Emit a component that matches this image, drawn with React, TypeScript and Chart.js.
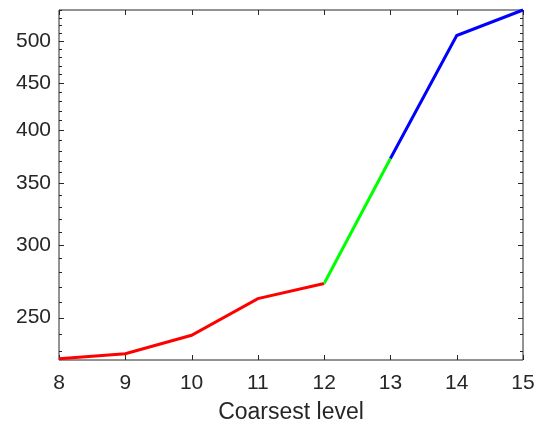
import React, { useEffect, useRef } from 'react';
import { Chart, registerables } from 'chart.js';

Chart.register(...registerables);

// Cost per coarsest level (log scale)
const levels = [8, 9, 10, 11, 12, 13, 14, 15];
const values = [225.5, 228.4, 239.2, 262.2, 272.3, 372.6, 507.1, 540.6];
// colour of the segment that starts at each level
const segmentColors = ['#ff0000', '#ff0000', '#ff0000', '#ff0000', '#00ff00', '#0000ff', '#0000ff'];

const yMin = 224.8;
const yMax = 540.6;
const yTickValues = [230, 240, 250, 260, 270, 280, 290, 300, 310, 320, 330, 340, 350, 360, 370, 380, 390, 400, 410, 420, 430, 440, 450, 460, 470, 480, 490, 500, 510, 520, 530, 540];
const yLabelled = [250, 300, 350, 400, 450, 500];
const xLabel = 'Coarsest level';

const AXIS_COLOR = '#262626';

// Draws the surrounding box with inward tick marks on all four sides
const boxTicks = {
  id: 'boxTicks',
  beforeDatasetsDraw(chart: any) {
    const { ctx, chartArea } = chart;
    const { left, right, top, bottom } = chartArea;
    const xs = chart.scales.x;
    const ys = chart.scales.y;
    ctx.save();
    ctx.strokeStyle = AXIS_COLOR;
    ctx.lineWidth = 1;
    ctx.beginPath();
    ctx.rect(Math.round(left), Math.round(top), Math.round(right) - Math.round(left), Math.round(bottom) - Math.round(top));
    ctx.stroke();

    ctx.beginPath();
    const major = 5;
    const minor = 3;
    for (const v of levels) {
      const px = Math.round(xs.getPixelForValue(v)) + 0.5;
      ctx.moveTo(px, bottom);
      ctx.lineTo(px, bottom - major);
      ctx.moveTo(px, top);
      ctx.lineTo(px, top + major);
    }
    for (const v of yTickValues) {
      const py = Math.round(ys.getPixelForValue(v)) + 0.5;
      const len = yLabelled.includes(v) ? major : minor;
      ctx.moveTo(left, py);
      ctx.lineTo(left + len, py);
      ctx.moveTo(right, py);
      ctx.lineTo(right - len, py);
    }
    ctx.stroke();
    ctx.restore();
  },
};

export default function App() {
  const canvasRef = useRef<HTMLCanvasElement | null>(null);

  useEffect(() => {
    const canvas = canvasRef.current;
    if (!canvas) return;
    Chart.defaults.font.family = '"Liberation Sans", Arial, Helvetica, sans-serif';
    Chart.defaults.color = AXIS_COLOR;

    const chart = new Chart(canvas, {
      type: 'line',
      data: {
        datasets: [
          {
            data: levels.map((l, i) => ({ x: l, y: values[i] })),
            borderWidth: 3,
            borderColor: '#ff0000',
            pointRadius: 0,
            pointHoverRadius: 0,
            tension: 0,
            clip: 4,
            segment: {
              borderColor: (c: any) => segmentColors[c.p0DataIndex],
            },
          },
        ],
      },
      options: {
        animation: false,
        responsive: false,
        maintainAspectRatio: false,
        events: [],
        layout: { padding: { top: 10, right: 22, left: 0, bottom: 0 } },
        plugins: {
          legend: { display: false },
          tooltip: { enabled: false },
        },
        scales: {
          x: {
            type: 'linear',
            min: 8,
            max: 15,
            grid: { display: false, drawTicks: false },
            border: { display: false },
            afterBuildTicks: (scale: any) => {
              scale.ticks = levels.map((v) => ({ value: v }));
            },
            afterFit: (scale: any) => {
              scale.height = 68;
              scale.paddingLeft = 0;
              scale.paddingRight = 0;
            },
            ticks: {
              autoSkip: false,
              maxRotation: 0,
              padding: 11,
              font: { size: 21 },
              color: AXIS_COLOR,
              callback: (v: any) => String(v),
            },
            title: {
              display: true,
              text: xLabel,
              font: { size: 23 },
              color: AXIS_COLOR,
              padding: { top: 0, bottom: 2 },
            },
          },
          y: {
            type: 'logarithmic',
            min: yMin,
            max: yMax,
            grid: { display: false, drawTicks: false },
            border: { display: false },
            afterBuildTicks: (scale: any) => {
              scale.ticks = yTickValues.map((v) => ({ value: v }));
            },
            afterFit: (scale: any) => {
              scale.width = 59;
              scale.paddingTop = 0;
              scale.paddingBottom = 0;
            },
            ticks: {
              autoSkip: false,
              padding: 8,
              font: { size: 21 },
              color: AXIS_COLOR,
              callback: (v: any) => (yLabelled.includes(Number(v)) ? String(v) : ''),
            },
          },
        },
      },
      plugins: [boxTicks],
    });

    return () => chart.destroy();
  }, []);

  return (
    <div style={{ position: 'fixed', left: 0, top: 0, width: 545, height: 428, background: '#ffffff' }}>
      <canvas ref={canvasRef} width={545} height={428} style={{ display: 'block', width: 545, height: 428 }} />
    </div>
  );
}
